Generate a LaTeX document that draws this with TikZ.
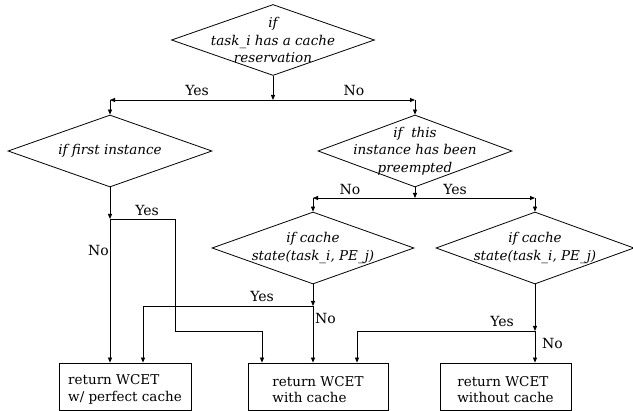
\documentclass[tikz,border=0pt]{standalone}
\usepackage{fontspec}
\setmainfont{DejaVu Serif}
\usetikzlibrary{shapes.geometric,arrows.meta}
\tikzset{
  dia/.style={draw, diamond, inner sep=0pt, line width=0.8pt},
  dtext/.style={font=\fontsize{13.5}{17.5}\selectfont\itshape, align=center, inner sep=0pt},
  box/.style={draw, line width=0.8pt, minimum height=47pt, inner sep=0pt},
  btext/.style={align=left, inner sep=0pt, font=\fontsize{13.5}{16.5}\selectfont},
  lbl/.style={font=\fontsize{14}{16.5}\selectfont, inner sep=0pt},
  arr/.style={-{Triangle[length=5pt,width=4pt]}, line width=0.8pt},
}
\begin{document}
\begin{tikzpicture}[x=1pt,y=-1pt]
\useasboundingbox (0,0) rectangle (633,411);
% decisions
\node[dia, minimum width=203pt, minimum height=71pt] (d1) at (273,40) {};
\node[dtext] (t1) at (273,40) {if\\task\_i has a cache\\reservation};
\node[dia, minimum width=204pt, minimum height=72pt] (d2) at (110,151) {};
\node[dtext] (t2) at (110,151) {if first instance};
\node[dia, minimum width=194pt, minimum height=72pt] (d3) at (415,151) {};
\node[dtext] (t3) at (415,151) {if\ \ this\\instance has been\\preempted};
\node[dia, minimum width=202pt, minimum height=72pt] (d4) at (313,248) {};
\node[dtext] (t4) at (313,248) {if cache\\state(task\_i, PE\_j)};
\node[dia, minimum width=198pt, minimum height=72pt] (d5) at (535,248) {};
\node[dtext] (t5) at (535,248) {if cache\\state(task\_i, PE\_j)};
% results
\node[box, minimum width=132pt] (b1) at (125,386.5) {};
\node[btext] (b1t) at ([yshift=-3pt]b1.center) {return WCET\\w/ perfect cache};
\node[box, minimum width=140pt] (b2) at (318,386.5) {};
\node[btext] (b2t) at ([yshift=-3pt]b2.center) {return WCET\\with cache};
\node[box, minimum width=131pt] (b3) at (505.5,386.5) {};
\node[btext] (b3t) at ([yshift=-3pt]b3.center) {return WCET\\without cache};
% junctions and corners
\coordinate (j1) at (273,100);
\coordinate (c1) at (110,100);
\coordinate (c2) at (415,100);
\coordinate (j2) at (110,219);
\coordinate (c3) at (175,219);
\coordinate (c4) at (175,331);
\coordinate (c5) at (262,331);
\coordinate (j3) at (415,198);
\coordinate (c6) at (313,198);
\coordinate (c7) at (535,198);
\coordinate (j4) at (313,306);
\coordinate (c8) at (143,306);
\coordinate (j5) at (535,331);
\coordinate (c9) at (357,331);
% connectors
\draw[arr] (d1.south) -- (j1);
\draw[arr] (j1) -- (c1);
\draw[arr] (c1) -- (d2.north);
\draw[arr] (j1) -- (c2);
\draw[arr] (c2) -- (d3.north);
\draw[arr] (d2.south) -- (j2);
\draw[arr] (j2) -- (j2 |- b1.north);
\draw[arr] (j2) -- (c3) -- (c4) -- (c5) -- (c5 |- b2.north);
\draw[arr] (d3.south) -- (j3);
\draw[arr] (j3) -- (c6);
\draw[arr] (c6) -- (d4.north);
\draw[arr] (j3) -- (c7);
\draw[arr] (c7) -- (d5.north);
\draw[arr] (d4.south) -- (j4);
\draw[arr] (j4) -- (j4 |- b2.north);
\draw[arr] (j4) -- (c8) -- (c8 |- b1.north);
\draw[arr] (d5.south) -- (j5);
\draw[arr] (j5) -- (j5 |- b3.north);
\draw[arr] (j5) -- (c9) -- (c9 |- b2.north);
% labels
\node[lbl, anchor=base] (l1) at (197,96) {Yes};
\node[lbl, anchor=base] (l2) at (354,96) {No};
\node[lbl, anchor=base] (l3) at (147,216) {Yes};
\node[lbl, anchor=base east] (l4) at (109,256) {No};
\node[lbl, anchor=base] (l5) at (350,195) {No};
\node[lbl, anchor=base] (l6) at (455,195) {Yes};
\node[lbl, anchor=base] (l7) at (262,302) {Yes};
\node[lbl, anchor=base west] (l8) at (315,324) {No};
\node[lbl, anchor=base] (l9) at (502,327) {Yes};
\node[lbl, anchor=base west] (l10) at (542,349) {No};
\end{tikzpicture}
\end{document}
